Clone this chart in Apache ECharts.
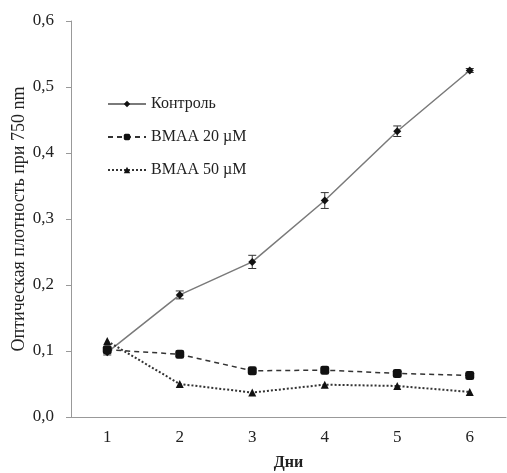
<!DOCTYPE html>
<html>
<head>
<meta charset="utf-8">
<script src="https://cdn.jsdelivr.net/npm/echarts@6/dist/echarts.min.js"></script>
<style>
  html, body { margin: 0; padding: 0; background: #fff; }
  #chart { width: 507px; height: 473px; }
</style>
</head>
<body>
<div id="chart"></div>
<script>
const days = ['1', '2', '3', '4', '5', '6'];
const control = [0.098, 0.185, 0.235, 0.328, 0.433, 0.525];
const controlErr = [0.004, 0.006, 0.010, 0.012, 0.008, 0.003];
const bmaa20 = [0.102, 0.095, 0.070, 0.071, 0.066, 0.063];
const bmaa50 = [0.115, 0.050, 0.037, 0.049, 0.047, 0.038];

const font = 'Liberation Serif';

// error bars for the control line
function errorBars(values, errs) {
    return {
        type: 'custom',
        silent: true,
        z: 1,
        data: values.map((v, i) => [i, v - errs[i], v + errs[i]]),
        renderItem: (params, api) => {
            const lo = api.coord([api.value(0), api.value(1)]);
            const hi = api.coord([api.value(0), api.value(2)]);
            const w = 4;
            const style = { stroke: '#333', lineWidth: 1 };
            return {
                type: 'group',
                children: [
                    { type: 'line', shape: { x1: lo[0], y1: lo[1], x2: hi[0], y2: hi[1] }, style },
                    { type: 'line', shape: { x1: lo[0] - w, y1: lo[1], x2: lo[0] + w, y2: lo[1] }, style },
                    { type: 'line', shape: { x1: hi[0] - w, y1: hi[1], x2: hi[0] + w, y2: hi[1] }, style }
                ]
            };
        }
    };
}

const chart = echarts.init(document.getElementById('chart'));
chart.setOption({
    animation: false,
    textStyle: { fontFamily: font },
    grid: { left: 71, right: 1, top: 21, bottom: 56, outerBoundsMode: 'none', containLabel: false },
    legend: {
        orient: 'vertical',
        left: 102,
        top: 91,
        itemWidth: 38,
        itemHeight: 8,
        itemGap: 17,
        textStyle: { fontFamily: font, fontSize: 16, color: '#222' },
        data: ['Контроль', 'BMAA 20 µM', 'BMAA 50 µM']
    },
    xAxis: {
        type: 'category',
        data: days,
        name: 'Дни',
        nameLocation: 'middle',
        nameGap: 38,
        nameMoveOverlap: false,
        nameTextStyle: { fontFamily: font, fontSize: 16, fontWeight: 'bold', color: '#222' },
        axisLine: { lineStyle: { color: '#999' } },
        axisTick: { length: 5, lineStyle: { color: '#999' } },
        axisLabel: { fontFamily: font, fontSize: 17, color: '#222', margin: 12 }
    },
    yAxis: {
        type: 'value',
        min: 0,
        max: 0.6,
        interval: 0.1,
        name: 'Оптическая плотность при 750 nm',
        nameLocation: 'middle',
        nameGap: 43,
        nameMoveOverlap: false,
        nameTextStyle: { fontFamily: font, fontSize: 18, color: '#222' },
        axisLine: { show: true, lineStyle: { color: '#999' } },
        axisTick: { show: true, length: 5, lineStyle: { color: '#999' } },
        splitLine: { show: false },
        axisLabel: {
            fontFamily: font, fontSize: 17, color: '#222', margin: 17,
            formatter: v => v.toFixed(1).replace('.', ',')
        }
    },
    series: [
        {
            name: 'Контроль',
            type: 'line',
            data: control,
            symbol: 'diamond',
            symbolSize: 8,
            z: 3,
            lineStyle: { color: '#7a7a7a', width: 1.5, type: 'solid' },
            itemStyle: { color: '#111' }
        },
        errorBars(control, controlErr),
        {
            name: 'BMAA 20 µM',
            type: 'line',
            data: bmaa20,
            symbol: 'roundRect',
            symbolSize: 9,
            z: 3,
            lineStyle: { color: '#333', width: 1.5, type: [5, 4] },
            itemStyle: { color: '#111' }
        },
        {
            name: 'BMAA 50 µM',
            type: 'line',
            data: bmaa50,
            symbol: 'triangle',
            symbolSize: 8,
            z: 3,
            lineStyle: { color: '#333', width: 2, type: [2, 2] },
            itemStyle: { color: '#111' }
        }
    ]
});
</script>
</body>
</html>
